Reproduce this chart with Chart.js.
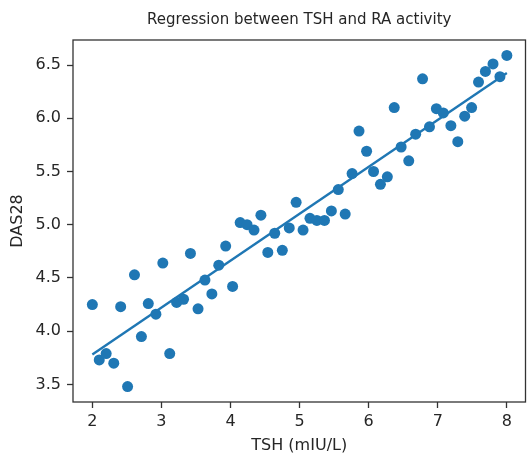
<!DOCTYPE html>
<html><head><meta charset="utf-8">
<script src="https://cdn.jsdelivr.net/npm/chart.js@4/dist/chart.umd.min.js"></script>
<style>html,body{margin:0;padding:0;background:#fff}</style>
</head><body>
<canvas id="c" width="531" height="455"></canvas>
<script>
const tsh = [2.00,2.10,2.20,2.31,2.41,2.51,2.61,2.71,2.81,2.92,
             3.02,3.12,3.22,3.32,3.42,3.53,3.63,3.73,3.83,3.93,
             4.03,4.14,4.24,4.34,4.44,4.54,4.64,4.75,4.85,4.95,
             5.05,5.15,5.25,5.36,5.46,5.56,5.66,5.76,5.86,5.97,
             6.07,6.17,6.27,6.37,6.47,6.58,6.68,6.78,6.88,6.98,
             7.08,7.19,7.29,7.39,7.49,7.59,7.69,7.80,7.90,8.00];
const das28 = [4.25,3.73,3.79,3.70,4.23,3.48,4.53,3.95,4.26,4.16,
               4.64,3.79,4.27,4.30,4.73,4.21,4.48,4.35,4.62,4.80,
               4.42,5.02,5.00,4.95,5.09,4.74,4.92,4.76,4.97,5.21,
               4.95,5.06,5.04,5.04,5.13,5.33,5.10,5.48,5.88,5.69,
               5.50,5.38,5.45,6.10,5.73,5.60,5.85,6.37,5.92,6.09,
               6.05,5.93,5.78,6.02,6.10,6.34,6.44,6.51,6.39,6.59];
const xTicks = [2,3,4,5,6,7,8];
const yTicks = [3.5,4.0,4.5,5.0,5.5,6.0,6.5];
const titleText = 'Regression between TSH and RA activity';
const xLabel = 'TSH (mIU/L)';
const yLabel = 'DAS28';

// least-squares regression line computed from the data
const n = tsh.length;
const mx = tsh.reduce((a,b)=>a+b,0)/n, my = das28.reduce((a,b)=>a+b,0)/n;
let sxy=0, sxx=0;
for (let i=0;i<n;i++){ sxy += (tsh[i]-mx)*(das28[i]-my); sxx += (tsh[i]-mx)**2; }
const slope = sxy/sxx, intercept = my - slope*mx;
const xmin = Math.min(...tsh), xmax = Math.max(...tsh);
const fitLine = [{x:xmin, y:intercept+slope*xmin},{x:xmax, y:intercept+slope*xmax}];

const blue = '#1f77b4';
const txt = '#262626';
const FF = '"DejaVu Sans", sans-serif';

const frame = {id:'frame', afterDatasetsDraw(chart){
  const {ctx, chartArea:a} = chart;
  ctx.save(); ctx.strokeStyle='#333'; ctx.lineWidth=1.3;
  ctx.strokeRect(a.left, a.top, a.right-a.left, a.bottom-a.top);
  ctx.restore();
}};

new Chart(document.getElementById('c'), {
  type:'scatter',
  data:{datasets:[
    {data: tsh.map((x,i)=>({x, y:das28[i]})), backgroundColor:blue, borderWidth:0, pointRadius:5.5, pointHoverRadius:5.5},
    {type:'line', data: fitLine, borderColor:blue, borderWidth:2.4, pointRadius:0, fill:false}
  ]},
  options:{
    responsive:false, animation:false, devicePixelRatio:1,
    layout:{padding:{left:0,right:2,top:0,bottom:0}},
    plugins:{
      legend:{display:false}, tooltip:{enabled:false},
      title:{display:true, text:titleText, fullSize:false, color:txt,
             font:{family:FF, size:15, weight:'normal'}, padding:{top:11,bottom:11}}
    },
    scales:{
      x:{type:'linear', min:1.72, max:8.27,
         afterBuildTicks(s){ s.ticks = xTicks.map(v=>({value:v})); },
         afterFit(s){ s.height = 53; },
         ticks:{color:txt, font:{family:FF,size:16}, padding:4, callback:v=>String(v), maxRotation:0},
         grid:{drawOnChartArea:false, drawTicks:true, tickLength:6, color:'#333', tickWidth:1.3},
         border:{display:false},
         title:{display:true, text:xLabel, color:txt, font:{family:FF,size:16}, padding:{top:0,bottom:0}}},
      y:{type:'linear', min:3.335, max:6.735,
         afterBuildTicks(s){ s.ticks = yTicks.map(v=>({value:v})); },
         afterFit(s){ s.width = 73; },
         ticks:{color:txt, font:{family:FF,size:16}, padding:6, callback:v=>Number(v).toFixed(1)},
         grid:{drawOnChartArea:false, drawTicks:true, tickLength:6, color:'#333', tickWidth:1.3},
         border:{display:false},
         title:{display:true, text:yLabel, color:txt, font:{family:FF,size:16}, padding:{top:8,bottom:0}}}
    }
  },
  plugins:[frame]
});
</script>
</body></html>
